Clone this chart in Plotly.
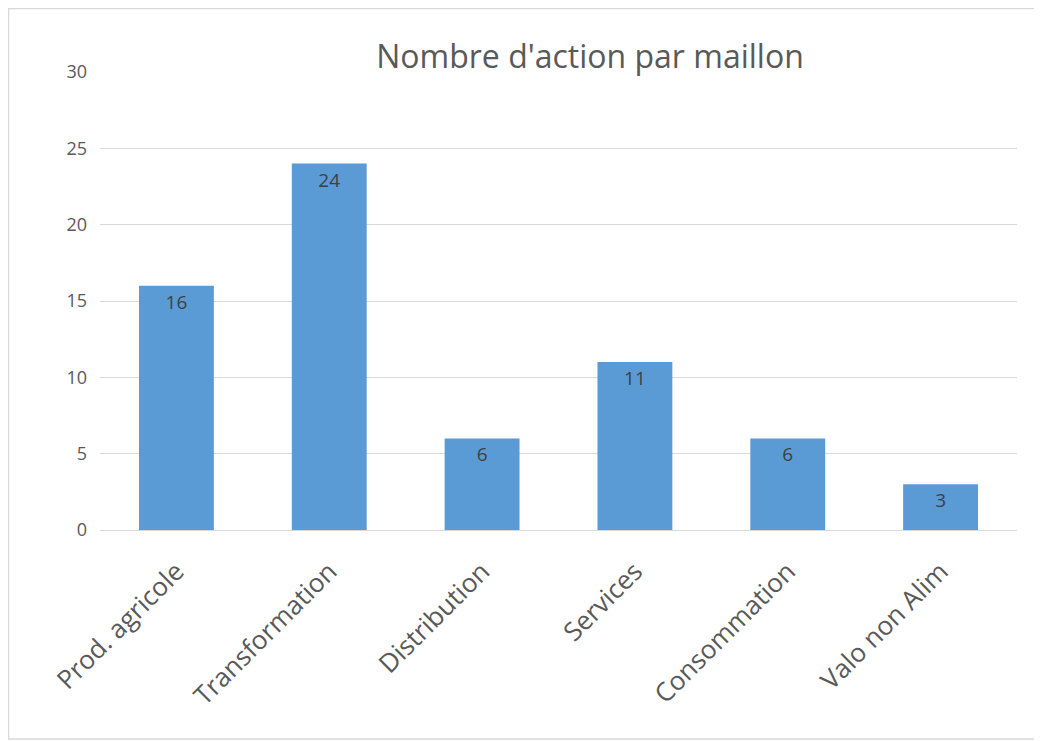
import plotly.graph_objects as go

categories = ["Prod. agricole", "Transformation", "Distribution", "Services", "Consommation", "Valo non Alim"]
values = [16, 24, 6, 11, 6, 3]
y_ticks = [0, 5, 10, 15, 20, 25, 30]
title_text = "Nombre d'action par maillon"

# page has an 8px body margin; figure sits at (8, 8)
OFF = 8
W, H = 1042 - OFF, 741 - OFF
L, R, T, B = 100 - OFF, 25, 72 - OFF, 211

fig = go.Figure(go.Bar(
    x=categories, y=values,
    marker=dict(color="#5B9BD5", line=dict(width=0)),
    width=0.49,
    text=[str(v) for v in values],
    textposition="inside",
    insidetextanchor="end",
    textangle=0,
    textfont=dict(family="Open Sans, sans-serif", size=19, color="#404040"),
    cliponaxis=False,
))

pw = W - L - R
ph = H - T - B
def px_x(p):
    return (p - OFF - L) / pw
def px_y(p):
    return (H - B - (p - OFF)) / ph

fig.update_layout(
    width=W, height=H,
    margin=dict(l=L, r=R, t=T, b=B),
    paper_bgcolor="white", plot_bgcolor="white",
    font=dict(family="Open Sans, sans-serif", color="#595959"),
    title=dict(text=title_text, x=(590 - OFF) / W, xanchor="center", y=1 - (57 - OFF) / H, yanchor="middle",
               font=dict(size=32, color="#595959", family="Open Sans, sans-serif")),
    showlegend=False,
    bargap=0.51,
    xaxis=dict(tickangle=-45, tickfont=dict(size=26, color="#595959"), showgrid=False,
               showline=False, ticks="", automargin=False, ticklabelstandoff=20),
    yaxis=dict(range=[0, 30], tickvals=y_ticks, showgrid=True, gridcolor="#D9D9D9", gridwidth=1.3,
               zeroline=True, zerolinecolor="#D9D9D9", zerolinewidth=1.3,
               tickfont=dict(size=18, color="#595959"), ticks="", ticklabelstandoff=12, automargin=False),
    shapes=[dict(type="rect", xref="paper", yref="paper",
                 x0=px_x(OFF + 0.5), x1=px_x(1040), y0=px_y(739), y1=px_y(OFF + 0.5),
                 line=dict(color="#D9D9D9", width=1.5), fillcolor="rgba(0,0,0,0)", layer="below")],
)

fig.write_html("out.html")
